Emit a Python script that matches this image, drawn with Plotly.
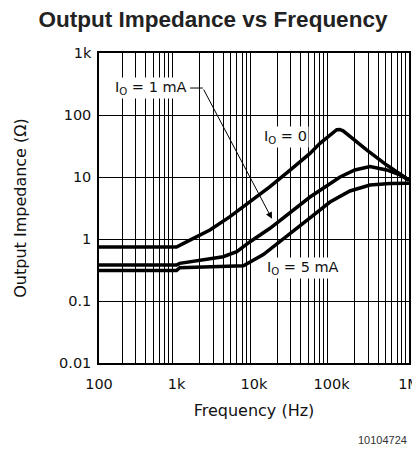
import plotly.graph_objects as go

# ---------------- data ----------------
freq_io0 = [100, 1000, 1490, 2700, 4900, 8900, 16100, 30000, 52800, 71000,
            90000, 105000, 117000, 128000, 141000, 170000, 200000, 284000,
            515000, 800000, 1000000]
z_io0 = [0.74, 0.74, 0.96, 1.40, 2.29, 4.0, 6.97, 13.3, 24, 35,
         44, 53, 58, 58.5, 55.5, 46, 39, 27.3,
         15.6, 10.9, 8.9]

freq_io1 = [100, 1000, 1100, 2200, 4000, 6000, 8900, 16100, 39300, 52800,
            129000, 200000, 314000, 515000, 765000, 1000000]
z_io1 = [0.38, 0.38, 0.405, 0.458, 0.518, 0.624, 0.905, 1.49, 3.54, 4.75,
         10.0, 13.0, 14.7, 13.0, 10.8, 8.9]

freq_io5 = [100, 1000, 1100, 2700, 7300, 13200, 26400, 52800, 95600, 173000,
            314000, 569000, 1000000]
z_io5 = [0.31, 0.31, 0.345, 0.357, 0.37, 0.56, 1.09, 2.2, 3.95, 5.95,
         7.43, 7.85, 7.9]

x_tickvals = [100, 1000, 10000, 100000, 1000000]
x_ticktext = ["100", "1k", "10k", "100k", "1M"]
y_tickvals = [0.01, 0.1, 1, 10, 100, 1000]
y_ticktext = ["0.01", "0.1", "1", "10", "100", "1k"]
minor_mults = [2, 3, 4, 5, 6, 7, 8, 9]
x_decades = [100, 1000, 10000, 100000]

x_minor = [m * d for d in x_decades for m in minor_mults]

FONT = "DejaVu Sans"
LINE_W = 3.5

# the page body adds an 8px offset, so the figure is 8px smaller
W, H = 412, 453

fig = go.Figure()
for fx, fz, name in [(freq_io0, z_io0, "IO = 0"),
                     (freq_io1, z_io1, "IO = 1 mA"),
                     (freq_io5, z_io5, "IO = 5 mA")]:
    fig.add_trace(go.Scatter(x=fx, y=fz, mode="lines", name=name,
                             line=dict(color="black", width=LINE_W),
                             showlegend=False, hoverinfo="skip"))

fig.update_layout(
    width=W, height=H,
    margin=dict(l=91, r=11, t=45, b=98),
    paper_bgcolor="white", plot_bgcolor="white",
    title=dict(text="<b>Output Impedance vs Frequency</b>",
               font=dict(family="Liberation Sans", size=22.5, color="#222"),
               x=(213 - 8) / W, xanchor="center", xref="container",
               y=1 - 11 / H, yanchor="middle", yref="container"),
    font=dict(family=FONT, size=14, color="#111"),
)

fig.update_xaxes(
    type="log", range=[2, 6], automargin=False,
    tickvals=x_tickvals, ticktext=x_ticktext, ticks="",
    ticklabelstandoff=7,
    showgrid=False, zeroline=False,
    showline=True, linecolor="black", linewidth=1.5, mirror=True,
    tickfont=dict(family=FONT, size=14.5, color="#111"),
    minor=dict(tickvals=x_minor, showgrid=True, gridcolor="black",
               gridwidth=1.2, ticks=""),
    title=dict(text="Frequency (Hz)", font=dict(family=FONT, size=16, color="#111"),
               standoff=14),
)
fig.update_yaxes(
    type="log", range=[-2, 3], automargin=False,
    tickvals=y_tickvals, ticktext=y_ticktext, ticks="",
    ticklabelstandoff=3,
    showgrid=True, gridcolor="black", gridwidth=1,
    zeroline=False,
    showline=True, linecolor="black", linewidth=1.5, mirror=True,
    tickfont=dict(family=FONT, size=14.5, color="#111"),
    title=dict(text="Output Impedance (Ω)", font=dict(family=FONT, size=16, color="#111"),
               standoff=28),
)

# labels
ann_font = dict(family=FONT, size=14.5, color="#111")
DX, DY = "x domain", "y domain"
for tx, ty, txt in [(0.168, 0.887, "I<sub>O</sub> = 1 mA"),
                    (0.603, 0.729, "I<sub>O</sub> = 0"),
                    (0.658, 0.306, "I<sub>O</sub> = 5 mA")]:
    fig.add_annotation(xref=DX, yref=DY, x=tx, y=ty, xanchor="center",
                       yanchor="middle", text=txt, showarrow=False,
                       bgcolor="white", font=ann_font, borderpad=1)
# leader + arrow for 1 mA
fig.add_shape(type="line", xref=DX, yref=DY,
              x0=0.294, y0=0.887, x1=0.335, y1=0.887,
              line=dict(color="black", width=1))
fig.add_annotation(xref=DX, yref=DY, axref=DX, ayref=DY,
                   x=0.558, y=0.465, ax=0.335, ay=0.887, text="",
                   showarrow=True, arrowhead=2, arrowsize=1.3, arrowwidth=1,
                   arrowcolor="black", standoff=0)
# figure id
fig.add_annotation(xref="paper", yref="paper", x=1.0, y=-0.248,
                   xanchor="right", yanchor="middle", text="10104724",
                   showarrow=False, font=dict(family="Liberation Sans", size=11, color="#333"))

fig.write_html("out.html")
